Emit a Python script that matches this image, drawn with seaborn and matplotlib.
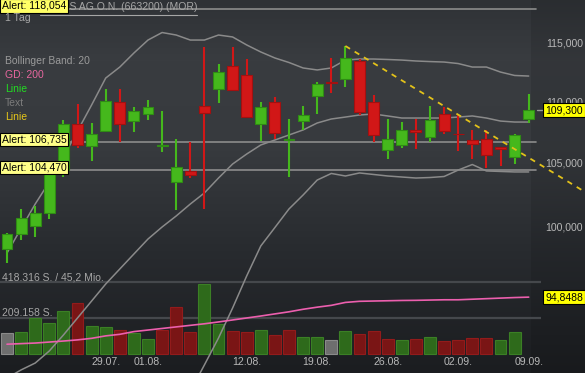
import numpy as np
import matplotlib
matplotlib.use("Agg")
import matplotlib.pyplot as plt
import seaborn as sns

opens = [98.38, 99.51, 100.12, 101.11, 104.46, 108.18, 106.39, 107.60, 110.00, 108.42,
         109.00, 106.35, 103.52, 104.39, 109.67, 111.09, 113.05, 112.28, 108.18, 110.00,
         106.91, 108.42, 110.50, 111.68, 111.94, 113.48, 110.00, 106.06, 106.47, 107.65,
         107.12, 109.00, 107.40, 106.87, 106.95, 106.27, 105.50, 108.59]
highs = [99.59, 101.42, 101.65, 104.70, 108.51, 109.83, 108.26, 111.09, 111.09, 109.58,
         110.17, 109.25, 106.95, 106.71, 114.69, 113.22, 114.69, 113.65, 110.00, 110.42,
         108.59, 109.67, 111.68, 113.74, 114.78, 113.65, 110.59, 108.59, 108.34, 108.59,
         109.67, 109.58, 109.00, 107.69, 107.69, 106.31, 107.36, 110.67]
lows = [97.34, 99.06, 99.28, 100.65, 103.91, 106.22, 105.18, 107.52, 106.71, 107.52,
        108.51, 105.90, 101.34, 103.83, 101.42, 109.92, 110.92, 108.67, 106.79, 106.95,
        103.91, 107.69, 109.00, 110.75, 111.26, 108.92, 106.71, 105.34, 106.22, 106.14,
        106.71, 107.36, 105.98, 105.34, 104.62, 104.78, 104.94, 108.26]
closes = [99.51, 100.73, 101.11, 104.62, 108.18, 106.47, 107.36, 110.08, 108.18, 109.25,
          109.58, 106.43, 104.70, 104.07, 109.09, 112.53, 111.01, 108.75, 109.58, 107.44,
          106.99, 108.92, 111.51, 111.60, 113.74, 109.17, 107.28, 106.95, 107.69, 107.56,
          108.51, 107.60, 107.32, 106.55, 105.66, 106.18, 107.28, 109.30]

# Umsatz (Stück), letzter Tag noch ohne Balken
volumes = [124000, 128000, 207000, 178000, 250000, 294000, 163000, 159000, 138000, 120000,
           85000, 138000, 271000, 126000, 409000, 174000, 135000, 126000, 141000, 112000,
           141000, 99000, 101000, 83000, 135000, 118000, 135000, 87000, 83000, 87000,
           97000, 77000, 81000, 91000, 95000, 83000, 126000]
vol_dir = ["n", "g", "g", "g", "g", "r", "g", "g", "r", "g",
           "g", "r", "r", "r", "g", "g", "r", "r", "g", "r",
           "r", "g", "g", "n", "g", "r", "r", "r", "g", "r",
           "g", "r", "r", "r", "r", "g", "g"]

# Bollinger Band 20
bb_upper = [98.08, 99.93, 101.80, 103.52, 105.50, 107.60, 109.75, 112.02, 112.96, 114.17,
            115.30, 115.96, 115.74, 115.30, 115.30, 115.74, 115.57, 114.87, 114.26, 113.74,
            113.35, 112.88, 112.71, 112.88, 113.56, 113.65, 113.65, 113.61, 113.56, 113.48,
            113.43, 113.39, 113.26, 112.96, 112.96, 112.53, 112.24, 112.19]
bb_mid = [89.20, 89.75, 90.22, 91.05, 92.16, 93.36, 94.57, 95.80, 96.90, 98.01,
          99.13, 100.04, 100.88, 101.80, 102.66, 103.83, 104.94, 105.74, 106.47, 106.87,
          107.28, 107.69, 108.26, 108.59, 108.75, 108.92, 109.00, 108.84, 108.67, 108.67,
          108.67, 108.67, 108.75, 108.84, 108.67, 108.42, 108.34, 108.34]
bb_lower = [80.32, 79.57, 78.64, 78.58, 78.82, 79.12, 79.39, 79.58, 80.84, 81.85,
            82.96, 84.12, 86.02, 88.30, 90.09, 91.95, 94.07, 96.39, 98.61, 100.00,
            101.42, 102.50, 103.67, 104.19, 103.99, 104.23, 104.11, 103.99, 103.91, 103.83,
            103.87, 103.95, 104.46, 104.90, 104.39, 104.35, 104.31, 104.31]
# GD 200
gd200 = [91.52, 91.56, 91.60, 91.67, 91.74, 91.82, 91.93, 92.10, 92.21, 92.40,
         92.51, 92.62, 92.73, 92.84, 92.95, 93.08, 93.22, 93.36, 93.50, 93.65,
         93.80, 93.98, 94.13, 94.26, 94.47, 94.55, 94.57, 94.59, 94.61, 94.62,
         94.64, 94.66, 94.66, 94.70, 94.74, 94.78, 94.82, 94.85]

trend_x = [24, 41]
trend_y = [114.78, 102.73]
alerts = [118.054, 106.735, 104.470]
alert_labels = ["Alert: 118,054", "Alert: 106,735", "Alert: 104,470"]
date_pos = [7, 10, 17, 22, 27, 32, 37]
date_labels = ["29.07.", "01.08.", "12.08.", "19.08.", "26.08.", "02.09.", "09.09."]
price_ticks = [115, 110, 105, 100]
price_tick_labels = ["115,000", "110,000", "105,000", "100,000"]
vol_levels = [418316, 209158]
vol_level_labels = ["418.316 S. / 45,2 Mio.", "209.158 S."]
last_price, last_price_label = 109.30, "109,300"
last_gd, last_gd_label = 94.8488, "94,8488"

sns.set_theme(style="dark")
plt.rcParams['font.family'] = ['Liberation Sans', 'DejaVu Sans']

W, H = 585, 373
def fx(x):
    return x / W
def fy(y):
    return 1 - y / H

idx = np.arange(len(closes))
xlim = ((0 - 7) / 14.1, (W - 7) / 14.1)

fig = plt.figure(figsize=(W / 100, H / 100), dpi=100)

# hintergrund
bg = fig.add_axes([0, 0, 1, 1])
stops_y = [0, 60, 150, 250, 373]
stops_c = np.array([[47, 50, 54], [57, 60, 64], [55, 58, 62], [40, 43, 47], [27, 29, 32]]) / 255
yy = np.arange(H)
grad = np.stack([np.interp(yy, stops_y, stops_c[:, k]) for k in range(3)], axis=1)
img = np.repeat(grad[:, None, :], W, axis=1)
img[:, 531:, :] *= 0.9
bg.imshow(img, aspect="auto", interpolation="bilinear")
bg.axis("off")

# volumen
axv = fig.add_axes([0, 0, 1, 1])
axv.patch.set_alpha(0)
base_px, top_px = 354, 282
span = vol_levels[0] / ((top_px - base_px) / -H)
vmin = -(H - base_px) / H * span
axv.set_ylim(vmin, vmin + span)
axv.set_xlim(*xlim)
axv.hlines(vol_levels, xlim[0], 37.9, color="#45484c", lw=1.6, zorder=0)
fills = {"g": "#2e6a1b", "r": "#7a1515", "n": "#6e6e6e"}
edges = {"g": "#3b7f25", "r": "#921b1b", "n": "#8a8a8a"}
axv.bar(idx[:len(volumes)], volumes, width=0.85,
        color=[fills[d] for d in vol_dir], edgecolor=[edges[d] for d in vol_dir], lw=0.8, zorder=2)
axv.axis("off")

# kurs
ax = fig.add_axes([0, 0, 1, 1])
ax.patch.set_alpha(0)
ax.set_yscale("log")
ax.set_xlim(*xlim)
ax.set_ylim(89.54, 118.86)

for a in alerts:
    ax.plot([xlim[0], 37.5], [a, a], color="#8c8c8c", lw=1.2, zorder=1)

for band in (bb_upper, bb_mid, bb_lower):
    sns.lineplot(x=idx, y=band, ax=ax, color="#8a8a8a", lw=1.1, zorder=2)
sns.lineplot(x=idx, y=gd200, ax=ax, color="#ec5fae", lw=1.2, zorder=2)

for i in idx:
    up = closes[i] >= opens[i]
    body = "#45b81c" if up else "#d11717"
    edge = "#2f8c14" if up else "#a31010"
    ax.vlines(i, lows[i], highs[i], color=body, lw=1.5, zorder=3)
    ax.bar(i, abs(closes[i] - opens[i]), bottom=min(opens[i], closes[i]), width=0.78,
           color=body, edgecolor=edge, lw=0.8, zorder=4)

ax.plot(trend_x, trend_y, color="#e3c21a", lw=1.3, dashes=(3, 3), zorder=5)
ax.axis("off")

# beschriftungen
grey = "#a6a6a6"
ytr = ax.get_yaxis_transform()
xtr = ax.get_xaxis_transform()
for p, lab in zip(price_ticks, price_tick_labels):
    ax.text(fx(583), p, lab, transform=ytr, ha="right", va="center", fontsize=7.6, color="#b8b8b8")
for d, lab in zip(date_pos, date_labels):
    ax.text(d, fy(362), lab, transform=xtr, ha="center", va="center", fontsize=7.6, color="#b8b8b8")

ax.plot([fx(537), fx(543)], [last_price, last_price], transform=ytr, color="#9a9a9a", lw=1)
ax.text(fx(583), last_price, last_price_label, transform=ytr, ha="right", va="center", fontsize=7.5,
        color="black", bbox=dict(boxstyle="square,pad=0.2", fc="#ffff00", ec="black", lw=0.8), zorder=6)
ax.text(fx(583), last_gd, last_gd_label, transform=ytr, ha="right", va="center", fontsize=7.5,
        color="black", bbox=dict(boxstyle="square,pad=0.2", fc="#ffff00", ec="black", lw=0.8), zorder=6)

for a, lab in zip(alerts[1:], alert_labels[1:]):
    ax.annotate(lab, (fx(2), a), xycoords=ytr, xytext=(0, 1.5), textcoords="offset points",
                ha="left", va="center", fontsize=7.5, color="black",
                bbox=dict(boxstyle="square,pad=0.15", fc="#ffff88", ec="black", lw=0.8), zorder=6)

for lev, lab in zip(vol_levels, vol_level_labels):
    fig.text(fx(2), fy(277 if lev == vol_levels[0] else 313), lab, ha="left", va="center",
             fontsize=7.5, color=grey)

fig.text(fx(197), fy(6.5), "MORPHOSYS AG O.N. (663200) (MOR)", ha="right", va="center",
         fontsize=7.6, color=grey)
fig.add_artist(plt.Line2D([fx(40), fx(197)], [fy(14.5), fy(14.5)], color=grey, lw=0.8))
fig.text(fx(2), fy(6), alert_labels[0], ha="left", va="center", fontsize=7.5, color="black",
         bbox=dict(boxstyle="square,pad=0.15", fc="#ffff66", ec="black", lw=0.8))
fig.text(fx(5), fy(18), "1 Tag", ha="left", va="center", fontsize=7.6, color=grey)

legend_items = [("Bollinger Band: 20", "#9a9a9a"), ("GD: 200", "#e7679f"), ("Linie", "#22dd22"),
                ("Text", "#7c7c7c"), ("Linie", "#e6c619")]
for k, (lab, col) in enumerate(legend_items):
    fig.text(fx(5), fy(61 + 14 * k), lab, ha="left", va="center", fontsize=7.5, color=col)

fig.savefig("out.png", dpi=100)
